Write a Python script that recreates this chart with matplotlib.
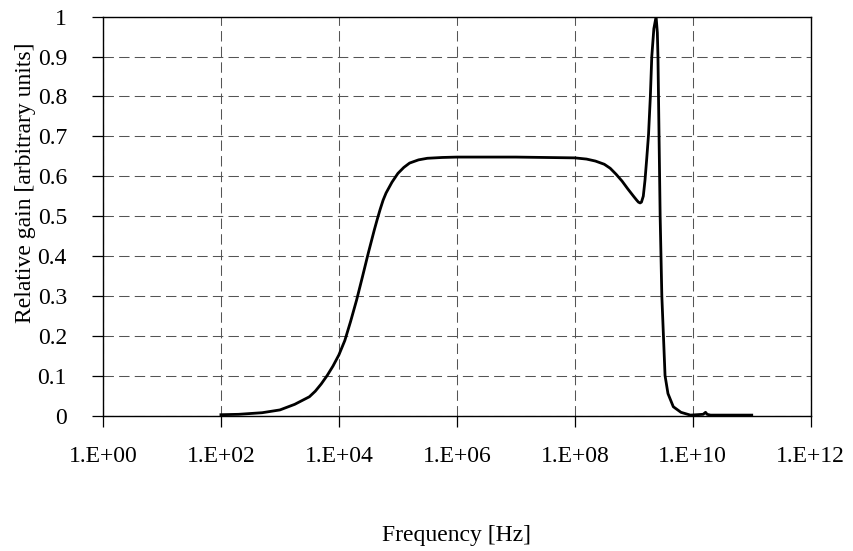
import matplotlib
matplotlib.use("Agg")
import matplotlib.pyplot as plt

# frequency response samples (Hz, relative gain)
freq = [1e2, 2e2, 3.16e2, 5e2, 1e3, 1.78e3, 3.16e3, 3.98e3, 5.01e3, 6.31e3,
        7.94e3, 1e4, 1.26e4, 1.58e4, 2e4, 2.51e4, 3.16e4, 3.98e4, 4.47e4,
        5.01e4, 5.62e4, 6.31e4, 7.94e4, 1e5, 1.26e5, 1.58e5, 2.24e5, 3.16e5,
        5.62e5, 1e6, 1e7, 1e8, 1.58e8, 2.24e8, 3.16e8, 3.98e8, 5.01e8,
        6.31e8, 7.94e8, 1e9, 1.12e9, 1.2e9, 1.28e9, 1.35e9, 1.45e9, 1.55e9,
        1.66e9, 1.78e9, 1.91e9, 2.02e9, 2.19e9, 2.39e9, 2.51e9, 2.57e9,
        2.80e9, 2.99e9, 3.39e9, 3.80e9, 4.68e9, 6.31e9, 9.12e9, 1.5e10,
        1.65e10, 1.75e10, 2e10, 1e11]
gain = [0.002, 0.003, 0.005, 0.007, 0.014, 0.028, 0.047, 0.061, 0.079,
        0.100, 0.124, 0.152, 0.188, 0.236, 0.290, 0.348, 0.408, 0.465,
        0.492, 0.517, 0.540, 0.558, 0.585, 0.607, 0.622, 0.633, 0.641,
        0.645, 0.647, 0.648, 0.648, 0.646, 0.643, 0.638, 0.630, 0.620,
        0.605, 0.588, 0.568, 0.549, 0.540, 0.535, 0.533, 0.535, 0.550,
        0.590, 0.645, 0.705, 0.800, 0.900, 0.970, 1.0, 0.960, 0.900,
        0.500, 0.300, 0.100, 0.055, 0.022, 0.008, 0.001, 0.003, 0.008,
        0.003, 0.001, 0.001]

xticks = [1e0, 1e2, 1e4, 1e6, 1e8, 1e10, 1e12]
xlabels = ["1.E+00", "1.E+02", "1.E+04", "1.E+06", "1.E+08", "1.E+10", "1.E+12"]
yticks = [0, 0.1, 0.2, 0.3, 0.4, 0.5, 0.6, 0.7, 0.8, 0.9, 1]
ylabels = ["0", "0.1", "0.2", "0.3", "0.4", "0.5", "0.6", "0.7", "0.8", "0.9", "1"]

plt.rcParams['font.family'] = ['Liberation Serif', 'DejaVu Serif']

fig = plt.figure(figsize=(8.54, 5.51), dpi=100)
ax = fig.add_axes([0.1206, 0.2459, 0.8287, 0.7238])

ax.plot(freq, gain, color='black', linewidth=2.0, solid_joinstyle='round')

ax.set_xscale('log')
ax.set_xlim(1e0, 1e12)
ax.set_ylim(0, 1)
ax.set_xticks(xticks)
ax.set_xticklabels(xlabels)
ax.set_yticks(yticks)
ax.set_yticklabels(ylabels)
ax.minorticks_off()

ax.grid(True, color='#555555', linewidth=0.75, linestyle=(0, (10, 5)))
ax.tick_params(axis='both', direction='out', length=8, width=0.9,
               labelsize=17, color='black')
ax.tick_params(axis='x', pad=14)
ax.tick_params(axis='y', pad=18)
for sp in ax.spines.values():
    sp.set_linewidth(1.0)
    sp.set_color('black')

fig.text(0.030, 0.668, 'Relative gain [arbitrary units]', rotation=90,
         ha='center', va='center', fontsize=17)
fig.text(0.534, 0.029, 'Frequency [Hz]', ha='center', va='center', fontsize=17)

fig.savefig('out.png', dpi=100)
